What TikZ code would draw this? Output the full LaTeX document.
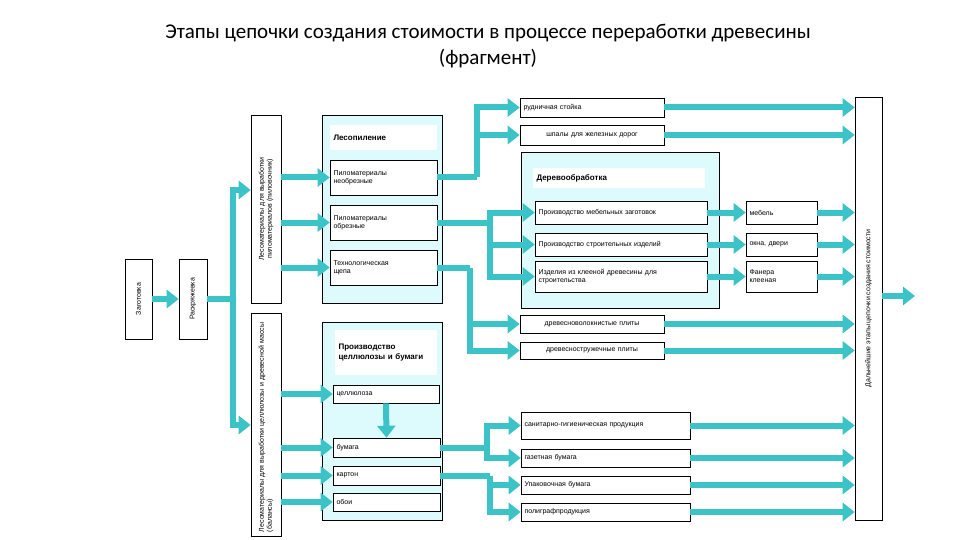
\documentclass[tikz,border=0pt]{standalone}
\usepackage{fontspec}
\setmainfont{Carlito}
\newfontfamily\sml{Liberation Sans}
\usetikzlibrary{arrows.meta}
\definecolor{tq}{HTML}{3CC3C8}
\definecolor{lc}{HTML}{DDFBFD}
\begin{document}
\begin{tikzpicture}[x=1pt,y=-1pt,
 box/.style={draw=black,fill=white,line width=0.6pt,inner sep=2pt,font=\sml\fontsize{7}{8}\selectfont,align=left,text width=#1},
 box/.default={},
 cont/.style={draw=black,fill=lc,line width=0.6pt},
 ttl/.style={fill=white,draw=none,font=\sml\bfseries\fontsize{8}{10}\selectfont,align=left,inner sep=3pt},
 arr/.style={tq,line width=6pt,-{Triangle[width=18pt,length=12pt]}},
 ln/.style={tq,line width=6pt}]
\useasboundingbox (0,0) rectangle (960,540);
\node[font=\fontsize{21}{26}\selectfont,align=center] (title) at (488,46) {Этапы цепочки создания стоимости в процессе переработки древесины\\(фрагмент)};
% containers
\draw[cont] (322,115) rectangle (442,303);
\draw[cont] (322,322) rectangle (442,520);
\draw[cont] (521,152) rectangle (719,308);
\node[ttl,minimum width=107pt,minimum height=25pt,text width=100pt] (lpt) at (383.5,137.5) {Лесопиление};
\node[ttl,minimum width=102pt,minimum height=45pt,text width=95pt] (cbt) at (386,352.5) {Производство целлюлозы и бумаги};
\node[ttl,minimum width=172pt,minimum height=20pt,text width=165pt] (dot) at (619,178) {Деревообработка};
% vertical boxes
\node[draw,fill=white,line width=0.6pt,minimum width=80pt,minimum height=27pt,rotate=90,font=\sml\fontsize{7}{8}\selectfont] (zag) at (138.5,299) {Заготовка};
\node[draw,fill=white,line width=0.6pt,minimum width=80pt,minimum height=28pt,rotate=90,font=\sml\fontsize{7}{8}\selectfont] (rask) at (193,299) {Раскряжевка};
\node[draw,fill=white,line width=0.6pt,minimum width=188pt,minimum height=30pt,rotate=90,align=center,text width=180pt,font=\sml\fontsize{7}{8}\selectfont] (lm1) at (266,209) {Лесоматериалы для выработки пиломатериалов (пиловочник)};
\node[draw,fill=white,line width=0.6pt,minimum width=223pt,minimum height=30pt,rotate=90,align=left,text width=215pt,font=\sml\fontsize{7}{8}\selectfont] (lm2) at (266,424.5) {Лесоматериалы для выработки целлюлозы и древесной массы (балансы)};
\node[draw,fill=white,line width=0.6pt,minimum width=423pt,minimum height=27pt,rotate=90,font=\sml\fontsize{7}{8}\selectfont] (far) at (868.5,308.5) {Дальнейшие этапы цепочки создания стоимости};
% lesopilenie
\node[box=100pt,minimum width=107pt,minimum height=35pt] (p1) at (383.5,177.5) {Пиломатериалы\\необрезные};
\node[box=100pt,minimum width=107pt,minimum height=35pt] (p2) at (383.5,222.5) {Пиломатериалы\\обрезные};
\node[box=100pt,minimum width=107pt,minimum height=35pt] (p3) at (383.5,267.5) {Технологическая\\щепа};
% cellulose
\node[box=99pt,minimum width=106pt,minimum height=18pt] (c1) at (386,394) {целлюлоза};
\node[box=100pt,minimum width=107pt,minimum height=19pt] (c2) at (386.5,447.5) {бумага};
\node[box=100pt,minimum width=107pt,minimum height=19pt] (c3) at (386.5,475.5) {картон};
\node[box=100pt,minimum width=107pt,minimum height=18pt] (c4) at (386.5,502) {обои};
% top boxes
\node[box=137pt,minimum width=144pt,minimum height=19pt] (t1) at (592,107.5) {рудничная стойка};
\node[box=137pt,minimum width=144pt,minimum height=20pt,align=center] (t2) at (592,135) {шпалы для железных дорог};
% derevoobrabotka
\node[box=165pt,minimum width=172pt,minimum height=23pt] (d1) at (621,212.5) {Производство мебельных заготовок};
\node[box=165pt,minimum width=172pt,minimum height=23pt] (d2) at (621,244.5) {Производство строительных изделий};
\node[box=165pt,minimum width=172pt,minimum height=31pt] (d3) at (621,276.5) {Изделия из клееной древесины для\\строительства};
\node[box=64pt,minimum width=71pt,minimum height=23pt] (m1) at (781.5,212.5) {мебель};
\node[box=64pt,minimum width=71pt,minimum height=23pt] (m2) at (781.5,244.5) {окна, двери};
\node[box=64pt,minimum width=71pt,minimum height=31pt] (m3) at (781.5,276.5) {Фанера\\клееная};
% plates
\node[box=137pt,minimum width=144pt,minimum height=18pt,align=center] (pl1) at (592,324) {древесноволокнистые плиты};
\node[box=137pt,minimum width=144pt,minimum height=17pt,align=center] (pl2) at (592,350.5) {древесностружечные плиты};
% bottom
\node[box=162pt,minimum width=169pt,minimum height=27pt] (b1) at (605.5,425.5) {санитарно-гигиеническая продукция};
\node[box=162pt,minimum width=169pt,minimum height=18pt] (b2) at (605.5,458) {газетная бумага};
\node[box=162pt,minimum width=169pt,minimum height=18pt] (b3) at (605.5,485) {Упаковочная бумага};
\node[box=162pt,minimum width=169pt,minimum height=18pt] (b4) at (605.5,512) {полиграфпродукция};
% junction coordinates
\coordinate (jr) at (233,299);
\coordinate (out) at (915,296);
\coordinate (j1) at (477,177.5);
\coordinate (j2) at (490,222.5);
\coordinate (j3) at (470,267.5);
\coordinate (j4) at (487,447.5);
\coordinate (j5) at (490,475.5);
% arrows
\draw[arr] (zag.south) -- (rask.north);
\draw[ln] (rask.south) -- (jr);
\draw[arr] (233,425) -- (233,190) -- (lm1.north|-0,190);
\draw[arr] (jr) -- (233,425) -- (lm2.north|-0,425);
\foreach \n in {p1,p2,p3}{\draw[arr] (lm1.south|-\n) -- (\n.west);}
\foreach \n in {c1,c2,c3,c4}{\draw[arr] (lm2.south|-\n) -- (\n.west);}
\draw[arr] (c1.south) -- (c2.north);
\draw[ln] (p1.east) -- (j1);
\draw[arr] (j1) |- (t1.west);
\draw[arr] (j1) |- (t2.west);
\draw[ln] (p2.east) -- (j2);
\draw[arr] (j2) |- (d1.west);
\draw[arr] (j2) |- (d2.west);
\draw[arr] (j2) |- (d3.west);
\draw[ln] (p3.east) -- (j3);
\draw[arr] (j3) |- (pl1.west);
\draw[arr] (j3) |- (pl2.west);
\draw[ln] (c2.east) -- (j4);
\draw[arr] (j4) |- (b1.west);
\draw[arr] (j4) |- (b2.west);
\draw[ln] (c3.east) -- (j5);
\draw[arr] (j5) |- (b3.west);
\draw[arr] (j5) |- (b4.west);
\foreach \a/\b in {d1/m1,d2/m2,d3/m3}{\draw[arr] (\a.east) -- (\b.west);}
\foreach \n in {t1,t2,m1,m2,m3,pl1,pl2,b1,b2,b3,b4}{\draw[arr] (\n.east) -- (far.north|-\n);}
\draw[arr] (far.south|-out) -- (out);
\end{tikzpicture}
\end{document}
